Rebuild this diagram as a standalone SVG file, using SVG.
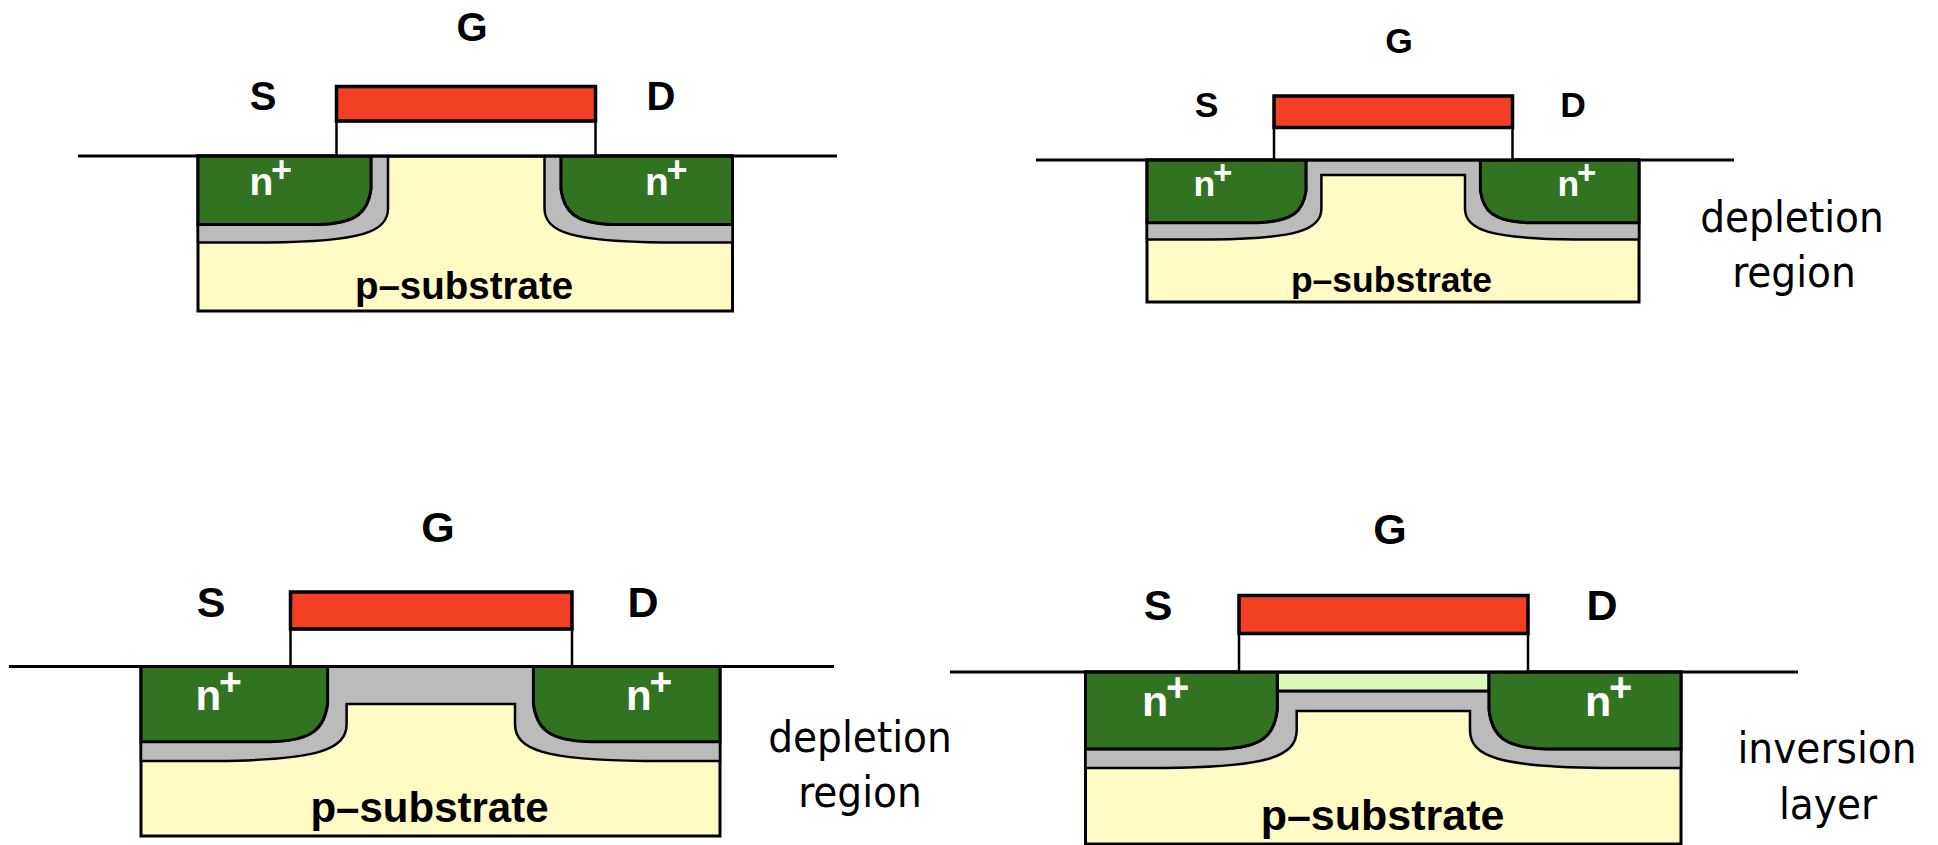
<svg xmlns="http://www.w3.org/2000/svg" width="1938" height="845" viewBox="0 0 1938 845">
<style>
text{font-family:"Liberation Sans",Arial,sans-serif;font-weight:700;fill:#000}
.m{text-anchor:middle}
.nt{fill:#fff}
.side{font-family:"DejaVu Sans",sans-serif;font-stretch:condensed;font-weight:400;text-anchor:middle;font-size:43.5px}
.sub{fill:#fffbc5;stroke:#000;stroke-width:3}
.gray{fill:#bbb;stroke:#000;stroke-width:2.5}
.nr{fill:#317321;stroke:#000;stroke-width:3}
.red{fill:#f33f24;stroke:#000;stroke-width:3.5}
.ox{fill:#fff;stroke:#000;stroke-width:2.5}
.inv{fill:#daf8b7;stroke:#000;stroke-width:3}
.ln{stroke:#000;stroke-width:3;fill:none}
</style>
<rect width="1938" height="845" fill="#fff"/>
<g id="mos-top-left">
<rect class="sub" x="198" y="156" width="534.5" height="155"/>
<path class="gray" d="M198,224.5H318C358,223.5 368,211 371,189.5V156H388V208.5C388,232.5 360,241.5 268,242.5H198Z"/>
<path class="gray" d="M732.5,224.5H614C574,223.5 564,211 561,189.5V156H544.5V208.5C544.5,232.5 572.5,241.5 664.5,242.5H732.5Z"/>
<path class="nr" d="M198,156H371V189.5C368,211 358,223.5 318,224.5H198Z"/>
<path class="nr" d="M732.5,156H561V189.5C564,211 574,223.5 614,224.5H732.5Z"/>
<rect class="ox" x="336.5" y="121" width="259" height="35"/>
<rect class="red" x="336.5" y="86.5" width="259" height="34.5"/>
<line class="ln" x1="78" y1="156" x2="837" y2="156"/>
<text class="m" x="472" y="41" font-size="40">G</text>
<text class="m" x="263" y="110" font-size="40">S</text>
<text class="m" x="661" y="110" font-size="40">D</text>
<text class="nt" x="249.5" y="195" font-size="39">n<tspan x="271.1" y="182" font-size="36">+</tspan></text>
<text class="nt" x="645" y="195" font-size="39">n<tspan x="666.6" y="182" font-size="36">+</tspan></text>
<text class="m" x="464" y="299" font-size="38.5">p–substrate</text>
</g>
<g id="mos-top-right">
<rect class="sub" x="1147" y="160" width="492" height="142"/>
<path class="gray" d="M1147,222.7H1257C1294,221.7 1303,210.7 1306,190.7V160H1480.4V190.7C1483.4,210.7 1492.4,221.7 1529.4,222.7H1639V239.5H1575C1491,238.5 1465,230.5 1465,208.5V175H1321.4V208.5C1321.4,230.5 1295.4,238.5 1211.4,239.5H1147Z"/>
<path class="nr" d="M1147,160H1306V190.7C1303,210.7 1294,221.7 1257,222.7H1147Z"/>
<path class="nr" d="M1639,160H1480.4V190.7C1483.4,210.7 1492.4,221.7 1529.4,222.7H1639Z"/>
<rect class="ox" x="1274" y="127.5" width="238.5" height="32.5"/>
<rect class="red" x="1274" y="96" width="238.5" height="31.5"/>
<line class="ln" x1="1036" y1="160" x2="1734" y2="160"/>
<text class="m" x="1399" y="53" font-size="35.5">G</text>
<text class="m" x="1206.5" y="117" font-size="35.5">S</text>
<text class="m" x="1573" y="117" font-size="35.5">D</text>
<text class="nt" x="1193.5" y="195.7" font-size="35.5">n<tspan x="1213" y="183.6" font-size="33">+</tspan></text>
<text class="nt" x="1557.5" y="195.7" font-size="35.5">n<tspan x="1577" y="183.6" font-size="33">+</tspan></text>
<text class="m" x="1391.5" y="292" font-size="35.5">p–substrate</text>
<text class="side" x="1792" y="232">depletion</text>
<text class="side" x="1794" y="287">region</text>
</g>
<g id="mos-bottom-left">
<rect class="sub" x="141" y="666.5" width="579" height="169.5"/>
<path class="gray" d="M141,741.7H270.6C313.6,740.7 324.6,727.7 327.6,703.7V666.5H533.4V703.7C536.4,727.7 547.4,740.7 590.4,741.7H720V761H645C545,760 515,750 515,724V704H346.6V724C346.6,750 316.6,760 216.6,761H141Z"/>
<path class="nr" d="M141,666.5H327.6V703.7C324.6,727.7 313.6,740.7 270.6,741.7H141Z"/>
<path class="nr" d="M720,666.5H533.4V703.7C536.4,727.7 547.4,740.7 590.4,741.7H720Z"/>
<rect class="ox" x="290.5" y="629" width="281.5" height="37.5"/>
<rect class="red" x="290.5" y="592" width="281.5" height="37"/>
<line class="ln" x1="9" y1="666.5" x2="834" y2="666.5"/>
<text class="m" x="438" y="542" font-size="43">G</text>
<text class="m" x="211" y="617" font-size="43">S</text>
<text class="m" x="643" y="617" font-size="43">D</text>
<text class="nt" x="195.5" y="710" font-size="42">n<tspan x="219" y="695" font-size="39">+</tspan></text>
<text class="nt" x="626" y="710" font-size="42">n<tspan x="649.5" y="695" font-size="39">+</tspan></text>
<text class="m" x="429.5" y="822" font-size="42">p–substrate</text>
<text class="side" x="860" y="751.7">depletion</text>
<text class="side" x="860" y="806.7">region</text>
</g>
<g id="mos-bottom-right">
<rect class="sub" x="1085.5" y="672" width="595.5" height="172"/>
<path class="gray" d="M1085.5,749H1219.3C1263,748 1274.3,735 1277.3,710V691H1489V710C1492,735 1503,748 1547,749H1681V768H1603C1500,767 1470,757 1470,730V711H1296.7V730C1296.7,757 1266.7,767 1163.7,768H1085.5Z"/>
<rect class="inv" x="1277.3" y="672" width="211.7" height="19"/>
<path class="nr" d="M1085.5,672H1277.3V710C1274.3,735 1263,748 1219.3,749H1085.5Z"/>
<path class="nr" d="M1681,672H1489V710C1492,735 1503,748 1547,749H1681Z"/>
<rect class="ox" x="1239" y="633.5" width="289" height="38.5"/>
<rect class="red" x="1239" y="595.5" width="289" height="38"/>
<line class="ln" x1="950" y1="672" x2="1798" y2="672"/>
<text class="m" x="1390" y="543.5" font-size="43">G</text>
<text class="m" x="1158" y="620" font-size="43">S</text>
<text class="m" x="1602" y="620" font-size="43">D</text>
<text class="nt" x="1142" y="716" font-size="43">n<tspan x="1166" y="701" font-size="40">+</tspan></text>
<text class="nt" x="1585" y="716" font-size="43">n<tspan x="1609" y="701" font-size="40">+</tspan></text>
<text class="m" x="1382.5" y="830" font-size="43">p–substrate</text>
<text class="side" x="1827" y="763">inversion</text>
<text class="side" x="1828" y="819">layer</text>
</g>
</svg>
